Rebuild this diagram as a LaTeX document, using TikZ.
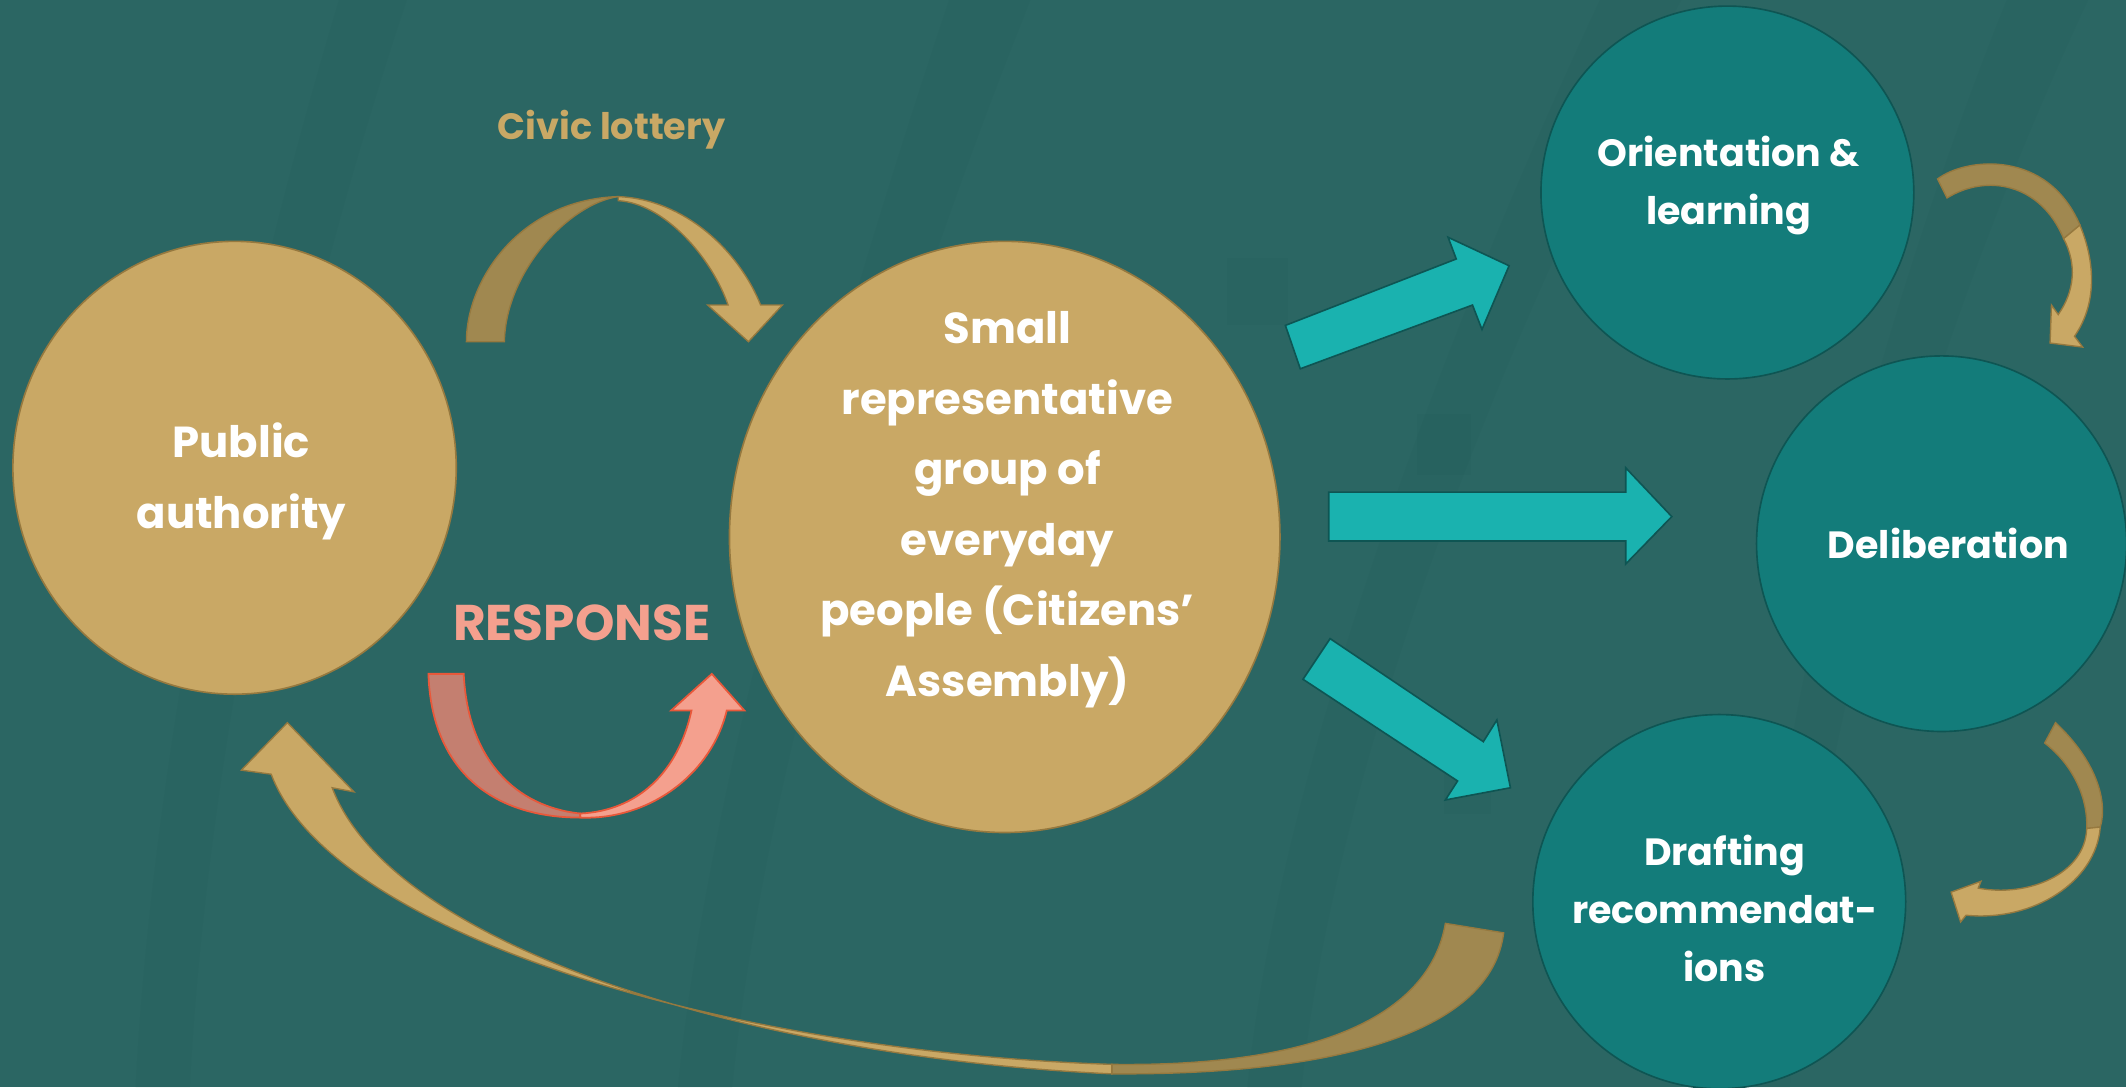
\documentclass[tikz,border=0pt]{standalone}
\usepackage{fontspec}
\setmainfont{Poppins}
\usetikzlibrary{shapes.geometric}
\definecolor{bg}{HTML}{2B6663}
\definecolor{bgdark}{HTML}{1F5351}
\definecolor{gold}{HTML}{C9A865}
\definecolor{golddark}{HTML}{A08850}
\definecolor{goldline}{HTML}{96793F}
\definecolor{tealc}{HTML}{137C7A}
\definecolor{tealline}{HTML}{0E5553}
\definecolor{aqua}{HTML}{1AB2AF}
\definecolor{salmon}{HTML}{F4A08E}
\definecolor{salmondark}{HTML}{C47F70}
\definecolor{redline}{HTML}{E8583A}
\tikzset{
  goldcirc/.style={ellipse, fill=gold, draw=goldline, line width=1.2pt, inner sep=0},
  tealcirc/.style={ellipse, fill=tealc, draw=tealline, line width=1.2pt, inner sep=0},
  biglbl/.style={text=white, font=\bfseries\fontsize{32}{52}\selectfont, align=center, inner sep=0},
  smlbl/.style={text=white, font=\bfseries\fontsize{28}{43}\selectfont, align=center, inner sep=0},
  goldback/.style={fill=golddark, draw=goldline, line width=1pt},
  goldfront/.style={fill=gold, draw=goldline, line width=1pt},
  aquaarrow/.style={fill=aqua, draw=tealline, line width=1.2pt},
  streak/.style={fill=bgdark, opacity=0.10}
}
\begin{document}
\begin{tikzpicture}[x=1pt,y=-1pt]
\fill[bg] (0,0) rectangle (1568,802);
\useasboundingbox (0,0) rectangle (1568,802);
% background texture
\fill[streak] (250,0) -- (300,0) .. controls (200,300) and (150,600) .. (140,802) -- (100,802) .. controls (110,600) and (160,300) .. (250,0) -- cycle;
\fill[streak] (700,0) -- (760,0) .. controls (640,300) and (560,600) .. (540,802) -- (500,802) .. controls (520,600) and (600,300) .. (700,0) -- cycle;
\fill[streak] (1180,0) -- (1240,0) .. controls (1080,300) and (980,600) .. (960,802) -- (920,802) .. controls (940,600) and (1040,300) .. (1180,0) -- cycle;
\fill[streak] (1480,0) -- (1540,0) .. controls (1400,300) and (1330,600) .. (1320,802) -- (1290,802) .. controls (1300,600) and (1360,300) .. (1480,0) -- cycle;
\fill[streak] (905,190) rectangle (950,240);
\fill[streak] (1045,305) rectangle (1085,350);
\fill[streak] (1065,560) rectangle (1100,600);

% circles
\node[goldcirc, minimum width=327pt, minimum height=334pt] (pa) at (173,345) {};
\node[goldcirc, minimum width=406pt, minimum height=436pt] (cit) at (741,396) {};
\node[tealcirc, minimum width=275pt, minimum height=275pt] (ori) at (1274,142) {};
\node[tealcirc, minimum width=273pt, minimum height=277pt] (del) at (1432,401) {};
\node[tealcirc, minimum width=275pt, minimum height=276pt] (dra) at (1268,665) {};

% texts
\node[biglbl] (patext) at (178,355) {Public\\authority};
\node[biglbl] (cittext) at (743,376) {Small\\representative\\group of\\everyday\\people (Citizens’\\Assembly)};
\node[smlbl] (oritext) at (1275,137) {Orientation \&\\learning};
\node[smlbl] (deltext) at (1437,401) {Deliberation};
\node[smlbl] (dratext) at (1272,670) {Drafting\\recommendat-\\ions};
\node[text=gold, font=\bfseries\fontsize{27}{32}\selectfont, inner sep=0] (civic) at (451,96) {Civic lottery};
\node[text=salmon, font=\bfseries\fontsize{37}{44}\selectfont, inner sep=0] (resp) at (429,459) {RESPONSE};

% civic lottery arrow
\filldraw[goldback] (344,252) .. controls (344,205) and (385,147) .. (456,145) .. controls (420,150) and (373,200) .. (372,252) -- cycle;
\filldraw[goldfront] (456,145) .. controls (505,147) and (545,185) .. (561,225) -- (577,225) -- (552,252) -- (522,225) -- (537,225) .. controls (525,190) and (490,150) .. (456,148) -- cycle;

% response arrow
\filldraw[fill=salmondark, draw=redline, line width=1.3pt] (316,497) .. controls (318,565) and (360,603) .. (428,603) -- (428,600) .. controls (380,595) and (345,560) .. (342,497) -- cycle;
\filldraw[fill=salmon, draw=redline, line width=1.3pt] (428,603) .. controls (480,605) and (525,570) .. (536,524) -- (549,524) -- (525,497) -- (495,524) -- (510,524) .. controls (500,570) and (470,598) .. (428,600) -- cycle;

% return arrow
\filldraw[goldback] (1109,688) .. controls (1100,760) and (990,793) .. (820,792) -- (820,785) .. controls (980,787) and (1055,745) .. (1066,681) -- cycle;
\filldraw[goldfront] (820,792) .. controls (560,780) and (290,700) .. (245,581) -- (261,584) -- (212,533) -- (178,568) -- (200,571) .. controls (245,690) and (540,776) .. (820,785) -- cycle;

% orientation -> deliberation
\filldraw[goldback] (1429,132) .. controls (1450,116) and (1510,110) .. (1534,166) -- (1522,176) .. controls (1505,135) and (1465,128) .. (1436,146) -- cycle;
\filldraw[goldfront] (1534,166) .. controls (1546,195) and (1546,225) .. (1530,248) -- (1536,256) -- (1512,253) -- (1513,225) -- (1518,232) .. controls (1530,215) and (1532,195) .. (1522,176) -- cycle;

% deliberation -> drafting
\filldraw[goldback] (1516,533) .. controls (1545,560) and (1555,590) .. (1549,610) -- (1539,611) .. controls (1540,590) and (1530,565) .. (1508,548) -- cycle;
\filldraw[goldfront] (1549,610) .. controls (1546,650) and (1500,680) .. (1450,675) -- (1446,680) -- (1439,658) -- (1461,650) -- (1459,655) .. controls (1495,662) and (1538,645) .. (1539,611) -- cycle;

% teal block arrows
\filldraw[aquaarrow] (948,240) -- (1074,191) -- (1068,175) -- (1113,196) -- (1093,243) -- (1086,225) -- (959,272) -- cycle;
\filldraw[aquaarrow] (980,363) -- (1199,363) -- (1199,345) -- (1233,381) -- (1199,416) -- (1199,399) -- (980,399) -- cycle;
\filldraw[aquaarrow] (981,471) -- (1094,547) -- (1104,531) -- (1114,581) -- (1066,590) -- (1075,576) -- (961,501) -- cycle;
\end{tikzpicture}
\end{document}
